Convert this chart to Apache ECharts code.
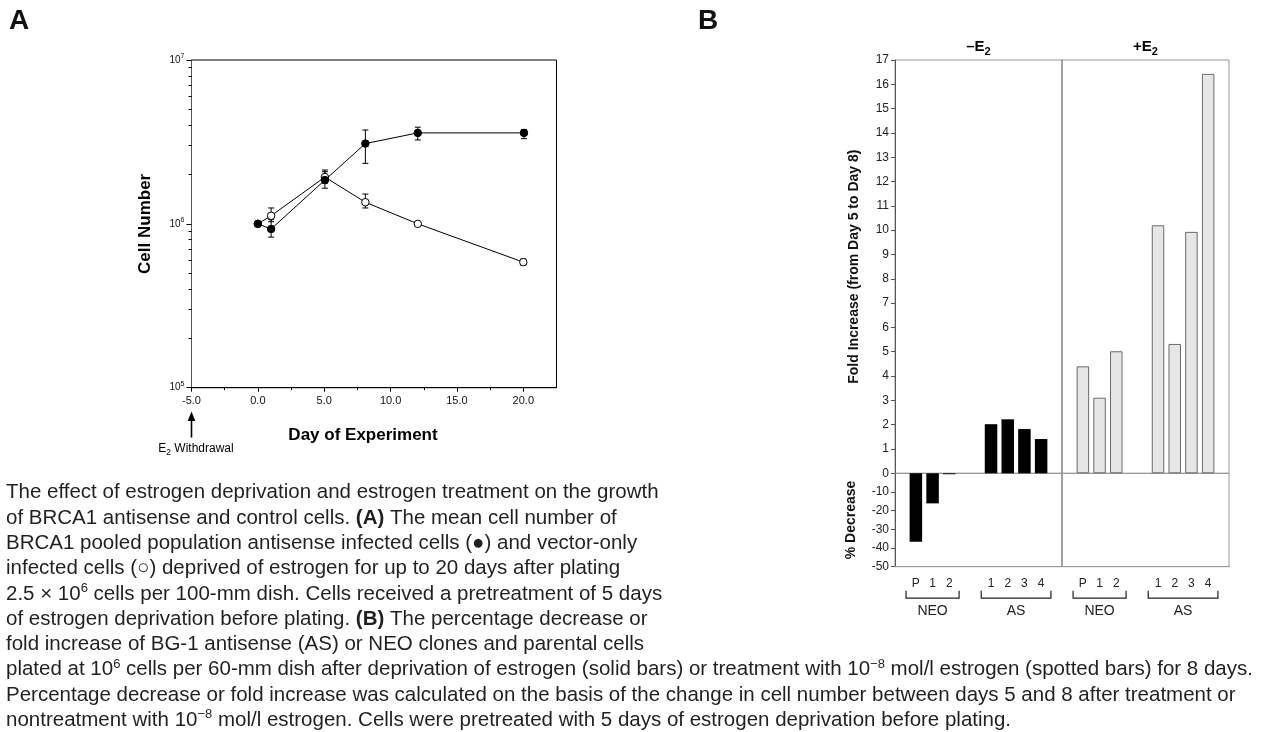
<!DOCTYPE html>
<html><head><meta charset="utf-8">
<script src="https://cdn.jsdelivr.net/npm/echarts@6/dist/echarts.min.js"></script>
<style>html,body{margin:0;padding:0;background:#fff;}#c{width:1264px;height:732px;}</style>
</head><body><div id="c"></div>
<script>
// ---------- Panel A data (cell number vs day) ----------
const dayAS = [0, 1, 5.05, 8.1, 12.05, 20.05];
const meanAS = [1.0e6, 0.93e6, 1.85e6, 3.09e6, 3.59e6, 3.59e6];
const lowAS = [null, 0.83e6, 1.65e6, 2.34e6, 3.25e6, 3.31e6];
const highAS = [null, 1.06e6, 2.08e6, 3.74e6, 3.89e6, 3.76e6];
const dayVec = [0, 1, 5.05, 8.1, 12.05, 20.0];
const meanVec = [1.0e6, 1.12e6, 1.93e6, 1.355e6, 1.0e6, 0.584e6];
const lowVec = [null, 1.03e6, 1.77e6, 1.25e6, 0.97e6, 0.56e6];
const highVec = [null, 1.25e6, 2.13e6, 1.52e6, 1.03e6, 0.61e6];
const xTicksA = [-5, 0, 5, 10, 15, 20];
const xMinorA = [-2.5, 2.5, 7.5, 12.5, 17.5];
const yMinorA = [2e5, 3e5, 4e5, 5e5, 6e5, 7e5, 8e5, 9e5, 2e6, 3e6, 4e6, 5e6, 6e6, 7e6, 8e6, 9e6];

// ---------- Panel B data ----------
const conditionLabels = ['–E', '+E'];
const clonesNEO = ['P', '1', '2'];
const clonesAS = ['1', '2', '3', '4'];
const pctDecreaseMinusNEO = [-36.6, -16.1, -0.5];
const foldMinusAS = [2.02, 2.22, 1.82, 1.41];
const foldPlusNEO = [4.40, 3.11, 5.02];
const foldPlusAS = [10.2, 5.32, 9.93, 16.43];

// ---------- Caption ----------
const captionLines = [
  'The effect of estrogen deprivation and estrogen treatment on the growth',
  'of BRCA1 antisense and control cells. {b|(A)} The mean cell number of',
  'BRCA1 pooled population antisense infected cells (●) and vector-only',
  'infected cells (○) deprived of estrogen for up to 20 days after plating',
  '2.5 × 10{sup|6} cells per 100-mm dish. Cells received a pretreatment of 5 days',
  'of estrogen deprivation before plating. {b|(B)} The percentage decrease or',
  'fold increase of BG-1 antisense (AS) or NEO clones and parental cells',
  'plated at 10{sup|6} cells per 60-mm dish after deprivation of estrogen (solid bars) or treatment with 10{sup|−8} mol/l estrogen (spotted bars) for 8 days.',
  'Percentage decrease or fold increase was calculated on the basis of the change in cell number between days 5 and 8 after treatment or',
  'nontreatment with 10{sup|−8} mol/l estrogen. Cells were pretreated with 5 days of estrogen deprivation before plating.'
];

const FONT = "'Liberation Sans', Arial, Helvetica, sans-serif";

// build category slots for panel B
const groupDefs = [
  {cond: 0, name: 'NEO', clones: clonesNEO, lower: pctDecreaseMinusNEO},
  {cond: 0, name: 'AS', clones: clonesAS, upper: foldMinusAS},
  {cond: 1, name: 'NEO', clones: clonesNEO, upper: foldPlusNEO},
  {cond: 1, name: 'AS', clones: clonesAS, upper: foldPlusAS}
];
const slots = [];
function spacer(n) { for (let i = 0; i < n; i++) slots.push({id: 's' + slots.length, label: ''}); }
spacer(2);
groupDefs.forEach((g, gi) => {
  g.first = slots.length;
  g.clones.forEach((c, j) => {
    slots.push({id: 'b' + slots.length, label: c, cond: g.cond,
      upper: g.upper ? g.upper[j] : null, lower: g.lower ? g.lower[j] : null});
    if (j < g.clones.length - 1) spacer(1);
  });
  g.last = slots.length - 1;
  spacer(gi < groupDefs.length - 1 ? 4 : 2);
});
const slotIds = slots.map(s => s.id);
const upperMinus = slots.map(s => (s.cond === 0 && s.upper != null) ? s.upper : '-');
const upperPlus = slots.map(s => (s.cond === 1 && s.upper != null) ? s.upper : '-');
const lowerMinus = slots.map(s => (s.lower != null) ? s.lower : '-');

function errSeries(days, lo, hi, z) {
  const data = [];
  days.forEach((d, i) => { if (lo[i] != null) data.push([d, lo[i], hi[i]]); });
  return {
    type: 'custom', xAxisIndex: 0, yAxisIndex: 0, data: data, z: z, silent: true,
    encode: {x: 0, y: [1, 2]},
    renderItem: function (params, api) {
      const x = api.value(0);
      const p1 = api.coord([x, api.value(1)]);
      const p2 = api.coord([x, api.value(2)]);
      const w = 3;
      const st = {stroke: '#000', lineWidth: 1};
      return {type: 'group', children: [
        {type: 'line', shape: {x1: p1[0], y1: p1[1], x2: p2[0], y2: p2[1]}, style: st},
        {type: 'line', shape: {x1: p1[0] - w, y1: p1[1], x2: p1[0] + w, y2: p1[1]}, style: st},
        {type: 'line', shape: {x1: p2[0] - w, y1: p2[1], x2: p2[0] + w, y2: p2[1]}, style: st}
      ]};
    }
  };
}

const chart = echarts.init(document.getElementById('c'));
const option = {
  animation: false,
  backgroundColor: '#fff',
  textStyle: {fontFamily: FONT},
  grid: [
    {left: 191.5, top: 60, width: 365, height: 327.7, show: true, borderColor: '#000', borderWidth: 1, backgroundColor: 'transparent', outerBoundsMode: 'none', containLabel: false},
    {left: 895, top: 60, width: 334, height: 413.3, show: true, borderColor: '#999', borderWidth: 1, backgroundColor: 'transparent', outerBoundsMode: 'none', containLabel: false},
    {left: 895, top: 473.3, width: 334, height: 93.4, show: true, borderColor: '#999', borderWidth: 1, backgroundColor: 'transparent', outerBoundsMode: 'none', containLabel: false}
  ],
  xAxis: [
    {gridIndex: 0, type: 'value', min: -5, max: 22.5, interval: 5, position: 'bottom',
      axisLine: {show: true, onZero: false, lineStyle: {color: '#000', width: 1}},
      axisTick: {show: true, customValues: xTicksA, length: 4, inside: false, lineStyle: {color: '#000'}},
      axisLabel: {show: true, customValues: xTicksA, formatter: v => (Math.abs(v % 5) < 1e-9 && v <= 20) ? v.toFixed(1) : '', fontSize: 11, color: '#111', margin: 8, fontFamily: FONT},
      splitLine: {show: false}},
    {gridIndex: 0, type: 'value', min: -5, max: 22.5, interval: 2.5, position: 'bottom', offset: 0,
      axisLine: {show: false, onZero: false},
      axisTick: {show: true, customValues: xMinorA, length: 2.5, inside: false, lineStyle: {color: '#000'}},
      axisLabel: {show: false}, splitLine: {show: false}},
    {gridIndex: 1, type: 'category', data: slotIds, boundaryGap: true, position: 'bottom',
      axisLine: {show: true, onZero: false, lineStyle: {color: '#999', width: 1}},
      axisTick: {show: false}, axisLabel: {show: false}, splitLine: {show: false}},
    {gridIndex: 2, type: 'category', data: slotIds, boundaryGap: true, position: 'bottom',
      axisLine: {show: true, onZero: false, lineStyle: {color: '#999', width: 1}},
      axisTick: {show: false},
      axisLabel: {show: true, interval: 0, formatter: (v, i) => slots[i].label, fontSize: 12, color: '#222', margin: 11, fontFamily: FONT},
      splitLine: {show: false}}
  ],
  yAxis: [
    {gridIndex: 0, type: 'log', logBase: 10, min: 1e5, max: 1e7, position: 'left',
      name: 'Cell Number', nameLocation: 'middle', nameGap: 38, nameRotate: 90,
      nameTextStyle: {fontSize: 17, fontWeight: 'bold', color: '#000', fontFamily: FONT},
      axisLine: {show: true, onZero: false, lineStyle: {color: '#555', width: 1}},
      axisTick: {show: true, length: 5, inside: false, lineStyle: {color: '#000'}},
      axisLabel: {show: true, margin: 7, color: '#111',
        formatter: v => '{a|10}{s|' + Math.round(Math.log10(v)) + '}',
        rich: {a: {fontSize: 10, lineHeight: 14, fontFamily: FONT, color: '#111'}, s: {fontSize: 7, lineHeight: 8, verticalAlign: 'top', fontFamily: FONT, color: '#111'}}},
      splitLine: {show: false}, minorTick: {show: false}},
    {gridIndex: 0, type: 'log', logBase: 10, min: 1e5, max: 1e7, position: 'left', offset: 0,
      axisLine: {show: false, onZero: false},
      axisTick: {show: true, customValues: yMinorA, length: 3, inside: false, lineStyle: {color: '#000'}},
      axisLabel: {show: false}, splitLine: {show: false}},
    {gridIndex: 1, type: 'value', min: 0, max: 17, interval: 1, position: 'left',
      name: 'Fold Increase (from Day 5 to Day 8)', nameLocation: 'middle', nameGap: 34, nameRotate: 90,
      nameTextStyle: {fontSize: 14, fontWeight: 'bold', color: '#111', fontFamily: FONT},
      axisLine: {show: true, onZero: false, lineStyle: {color: '#555', width: 1}},
      axisTick: {show: true, length: 4, inside: false, lineStyle: {color: '#555'}},
      axisLabel: {show: true, fontSize: 12, color: '#222', margin: 6, fontFamily: FONT},
      splitLine: {show: false}},
    {gridIndex: 2, type: 'value', min: -50, max: 0, interval: 10, position: 'left',
      name: '% Decrease', nameLocation: 'middle', nameGap: 37, nameRotate: 90,
      nameTextStyle: {fontSize: 14, fontWeight: 'bold', color: '#111', fontFamily: FONT},
      axisLine: {show: true, onZero: false, lineStyle: {color: '#555', width: 1}},
      axisTick: {show: true, length: 4, inside: false, lineStyle: {color: '#555'}},
      axisLabel: {show: true, fontSize: 12, color: '#222', margin: 6, fontFamily: FONT, formatter: v => v === 0 ? '' : String(v)},
      splitLine: {show: false}}
  ],
  series: [
    errSeries(dayVec, lowVec, highVec, 3),
    errSeries(dayAS, lowAS, highAS, 3),
    {name: 'vector', type: 'line', xAxisIndex: 0, yAxisIndex: 0, z: 4,
      data: dayVec.map((d, i) => [d, meanVec[i]]),
      symbol: 'circle', symbolSize: 7.5, showSymbol: true,
      lineStyle: {color: '#000', width: 1}, itemStyle: {color: '#fff', borderColor: '#000', borderWidth: 1}},
    {name: 'antisense', type: 'line', xAxisIndex: 0, yAxisIndex: 0, z: 5,
      data: dayAS.map((d, i) => [d, meanAS[i]]),
      symbol: 'circle', symbolSize: 7.5, showSymbol: true,
      lineStyle: {color: '#000', width: 1}, itemStyle: {color: '#000', borderColor: '#000', borderWidth: 1}},
    {name: 'minusE2', type: 'bar', xAxisIndex: 2, yAxisIndex: 2, data: upperMinus,
      barWidth: 12.5, barGap: '-100%', itemStyle: {color: '#000'}},
    {name: 'plusE2', type: 'bar', xAxisIndex: 2, yAxisIndex: 2, data: upperPlus,
      barWidth: 12.5, barGap: '-100%', itemStyle: {color: '#e6e6e6', borderColor: '#6a6a6a', borderWidth: 1}},
    {name: 'minusE2pct', type: 'bar', xAxisIndex: 3, yAxisIndex: 3, data: lowerMinus,
      barWidth: 12.5, itemStyle: {color: '#000'}}
  ]
};
chart.setOption(option);

// ---------- annotations derived from axis scales ----------
const gx = (ai, v) => chart.convertToPixel({xAxisIndex: ai}, v);
const gy = (ai, v) => chart.convertToPixel({yAxisIndex: ai}, v);
const graphics = [];
const txt = (text, x, y, font, extra) => Object.assign({type: 'text', silent: true, style: Object.assign({text: text, x: x, y: y, font: font, fill: '#111', align: 'center', verticalAlign: 'middle'}, extra || {})});

graphics.push(txt('A', 19, 21, "bold 28px " + FONT));
graphics.push(txt('B', 708, 21, "bold 28px " + FONT));
graphics.push(txt('Day of Experiment', 363, 435, "bold 17px " + FONT, {fill: '#000'}));

// E2 withdrawal arrow at day -5
const ax = gx(0, -5);
graphics.push({type: 'line', silent: true, shape: {x1: ax, y1: 419, x2: ax, y2: 437.5}, style: {stroke: '#000', lineWidth: 1.6}});
graphics.push({type: 'polygon', silent: true, shape: {points: [[ax, 411.5], [ax - 3.8, 421], [ax + 3.8, 421]]}, style: {fill: '#000'}});
graphics.push({type: 'text', silent: true, style: {text: '{n|E}{sub|2}{n| Withdrawal}', x: 196, y: 449, align: 'center', verticalAlign: 'middle',
  rich: {n: {fontSize: 12, lineHeight: 16, fontFamily: FONT, color: '#111'}, sub: {fontSize: 8.5, lineHeight: 9, verticalAlign: 'bottom', fontFamily: FONT, color: '#111'}}}});

// Panel B divider between conditions
const g1 = groupDefs[1], g2 = groupDefs[2];
const divX = (gx(3, slotIds[g1.last]) + gx(3, slotIds[g2.first])) / 2;
graphics.push({type: 'line', silent: true, shape: {x1: divX, y1: gy(2, 17), x2: divX, y2: gy(3, -50)}, style: {stroke: '#444', lineWidth: 1}});

// condition headers
[0, 1].forEach(c => {
  const gs = groupDefs.filter(g => g.cond === c);
  const cx = (gx(3, slotIds[gs[0].first]) + gx(3, slotIds[gs[gs.length - 1].last])) / 2;
  graphics.push({type: 'text', silent: true, style: {text: '{n|' + conditionLabels[c] + '}{sub|2}', x: cx, y: 47, align: 'center', verticalAlign: 'middle',
    rich: {n: {fontSize: 15, fontWeight: 'bold', lineHeight: 20, fontFamily: FONT, color: '#111'}, sub: {fontSize: 11, fontWeight: 'bold', lineHeight: 11, verticalAlign: 'bottom', fontFamily: FONT, color: '#111'}}}});
});

// group brackets
const yb = gy(3, -50);
groupDefs.forEach(g => {
  const x1 = gx(3, slotIds[g.first]) - 9.8, x2 = gx(3, slotIds[g.last]) + 9.8;
  graphics.push({type: 'polyline', silent: true, shape: {points: [[x1, yb + 24], [x1, yb + 31.5], [x2, yb + 31.5], [x2, yb + 24]]}, style: {stroke: '#222', lineWidth: 1.2, fill: null}});
  graphics.push(txt(g.name, (x1 + x2) / 2, yb + 44, "14px " + FONT, {fill: '#222'}));
});

// caption
captionLines.forEach((line, i) => {
  graphics.push({type: 'text', silent: true, style: {text: line, x: 6, y: 492.7 + i * 25.3, align: 'left', verticalAlign: 'middle',
    font: "20.5px " + FONT, fill: '#231f20', lineHeight: 24,
    rich: {b: {fontSize: 20.5, fontWeight: 'bold', lineHeight: 24, fontFamily: FONT, color: '#231f20'},
           sup: {fontSize: 13, lineHeight: 10, verticalAlign: 'top', fontFamily: FONT, color: '#231f20'}}}});
});

chart.setOption({graphic: {elements: graphics}});
</script>
</body></html>
